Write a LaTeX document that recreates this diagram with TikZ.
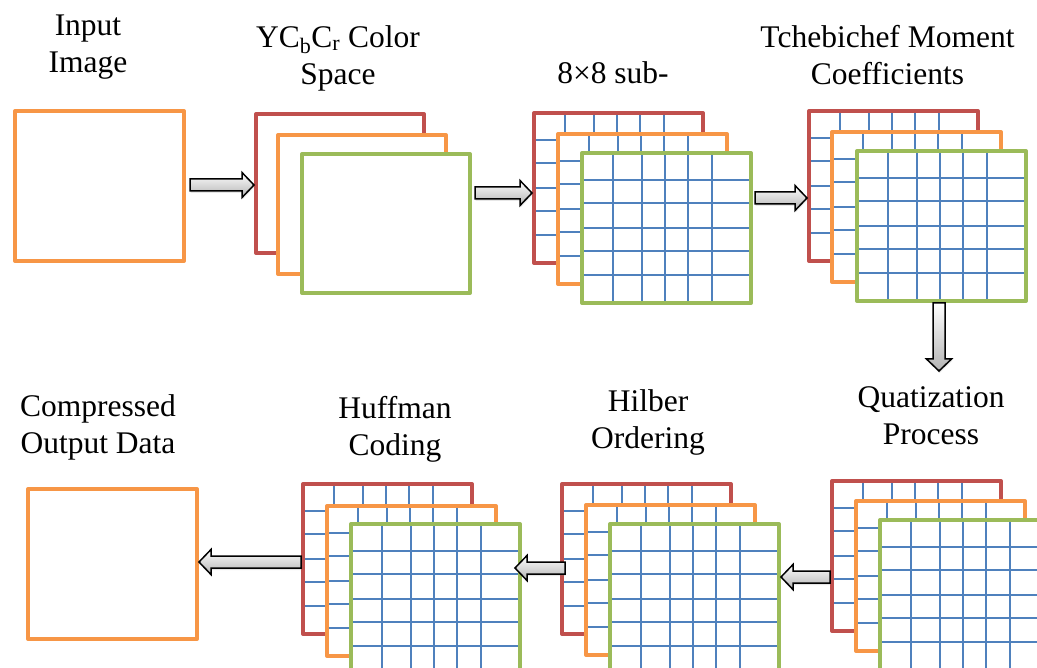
\documentclass[tikz,border=0pt]{standalone}
\usepackage{fontspec}
\setmainfont{Liberation Serif}
\newfontfamily\labfont{Liberation Serif}
\usepackage{tikz}
\usetikzlibrary{calc,arrows.meta,shadows}
\definecolor{redlayer}{HTML}{C0504D}
\definecolor{orangelayer}{HTML}{F79646}
\definecolor{greenlayer}{HTML}{9BBB59}
\definecolor{gridblue}{HTML}{4F81BD}
\tikzset{
  layer/.style={draw=#1, fill=white, line width=4pt, line join=round, inner sep=0pt,
    minimum width=169pt, minimum height=150pt, anchor=north west},
  flat/.style={minimum width=168pt, minimum height=139pt},
  gridline/.style={draw=gridblue, line width=2pt},
  blockgrid/.style={path picture={
    \foreach \f in {0.183,0.355,0.491,0.627,0.769}
      \draw[gridline] ($(path picture bounding box.north west)!\f!(path picture bounding box.north east)$)
        -- ($(path picture bounding box.south west)!\f!(path picture bounding box.south east)$);
    \foreach \f in {0.18,0.333,0.5,0.653,0.813}
      \draw[gridline] ($(path picture bounding box.north west)!\f!(path picture bounding box.south west)$)
        -- ($(path picture bounding box.north east)!\f!(path picture bounding box.south east)$);
  }},
  flowarrow/.style={draw=black, line width=1.5pt, line join=miter, top color=white, bottom color=black!30,
    drop shadow={shadow xshift=0.5pt, shadow yshift=-2pt, opacity=0.2}},
  lab/.style={font=\labfont\fontsize{31.5}{37.5}\selectfont, align=center, anchor=north, inner sep=0pt},
}
% block arrow from #1 to #2 (tip at #2)
\newcommand{\blockarrow}[2]{%
  \coordinate (head) at ($(#2)!12pt!(#1)$);
  \draw[flowarrow] ($(#1)!6pt!90:(#2)$) -- ($(head)!6pt!90:(#2)$) -- ($(head)!12.5pt!90:(#2)$)
    -- (#2) -- ($(head)!12.5pt!-90:(#2)$) -- ($(head)!6pt!-90:(#2)$) -- ($(#1)!6pt!-90:(#2)$) -- cycle;}

\begin{document}
\begin{tikzpicture}[x=1pt,y=-1pt]
  \useasboundingbox (0,0) rectangle (1037,668);
  \clip (0,0) rectangle (1037,668);

  % top row
  \node[layer=orangelayer] (img) at (13,109) {};
  \foreach \c/\s/\x/\y in {redlayer/r/254/112, orangelayer/o/276/133, greenlayer/g/300/152}
    \node[layer=\c, flat] (yc\s) at (\x,\y) {};
  \foreach \c/\s/\x/\y in {redlayer/r/532/111, orangelayer/o/556/132, greenlayer/g/580/151}
    \node[layer=\c, blockgrid] (s8\s) at (\x,\y) {};
  \foreach \c/\s/\x/\y in {redlayer/r/807/109, orangelayer/o/830/130, greenlayer/g/855/149}
    \node[layer=\c, blockgrid] (tc\s) at (\x,\y) {};

  % bottom row
  \foreach \c/\s/\x/\y in {redlayer/r/830/479, orangelayer/o/854/499, greenlayer/g/878/518}
    \node[layer=\c, blockgrid] (q\s) at (\x,\y) {};
  \foreach \c/\s/\x/\y in {redlayer/r/560/482, orangelayer/o/584/503, greenlayer/g/608/522}
    \node[layer=\c, blockgrid] (h\s) at (\x,\y) {};
  \foreach \c/\s/\x/\y in {redlayer/r/301/482, orangelayer/o/325/504, greenlayer/g/349/522}
    \node[layer=\c, blockgrid] (f\s) at (\x,\y) {};
  \node[layer=orangelayer] (out) at (26,487) {};

  % labels
  \node[lab] (limg) at (88,8.75) {\strut Input\\Image};
  \node[lab] (lyc) at (338,20.75) {\strut YC\textsubscript{b}C\textsubscript{r} Color\\Space};
  \node[lab] (ls8) at (613,56.75) {\strut 8×8 sub-};
  \node[lab] (ltc) at (887.5,20.75) {\strut Tchebichef Moment\\Coefficients};
  \node[lab] (lq) at (931,380.75) {\strut Quatization\\Process};
  \node[lab] (lh) at (648,384.75) {\strut Hilber\\Ordering};
  \node[lab] (lf) at (395,391.75) {\strut Huffman\\Coding};
  \node[lab] (lout) at (98,389.75) {\strut Compressed\\Output Data};

  % arrows
  \coordinate (a1s) at ([xshift=4pt]img.east |- 0,185);
  \coordinate (a1e) at (ycr.west |- a1s);
  \blockarrow{a1s}{a1e}
  \coordinate (a2s) at ([xshift=3pt]ycg.east |- 0,193);
  \coordinate (a2e) at (s8r.west |- a2s);
  \blockarrow{a2s}{a2e}
  \coordinate (a3s) at ([xshift=2pt]s8g.east |- 0,198);
  \coordinate (a3e) at (tcr.west |- a3s);
  \blockarrow{a3s}{a3e}
  \coordinate (a4s) at ([xshift=-2.5pt]tcg.south);
  \coordinate (a4e) at (a4s |- 0,371);
  \blockarrow{a4s}{a4e}
  \coordinate (a5s) at (qr.west |- 0,577);
  \coordinate (a5e) at (hg.east |- a5s);
  \blockarrow{a5s}{a5e}
  \coordinate (a6s) at ([xshift=5pt]hr.west |- 0,568);
  \coordinate (a6e) at ([xshift=-7pt]fg.east |- a6s);
  \blockarrow{a6s}{a6e}
  \coordinate (a7s) at (fr.west |- 0,562);
  \coordinate (a7e) at (out.east |- a7s);
  \blockarrow{a7s}{a7e}
\end{tikzpicture}
\end{document}
